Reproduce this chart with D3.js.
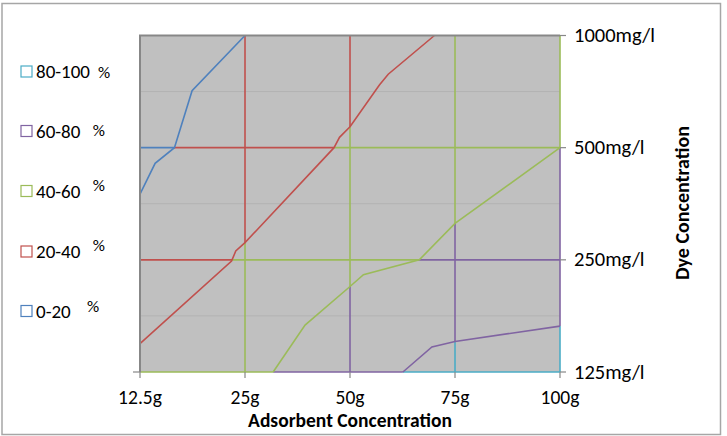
<!DOCTYPE html>
<html>
<head>
<meta charset="utf-8">
<script src="https://cdn.jsdelivr.net/npm/d3@7"></script>
<style>
  html, body { margin: 0; padding: 0; background: #ffffff; }
  text { font-family: Carlito, Calibri, Lato, sans-serif; fill: #000; }
</style>
</head>
<body>
<script>
// ---------------- DATA ----------------
const xCats = ["12.5g", "25g", "50g", "75g", "100g"];          // Adsorbent concentration categories
const xVals = [12.5, 25, 50, 75, 100];
const yVals = [125, 250, 500, 1000];                           // Dye concentration levels (mg/l)
const yLabels = ["125mg/l", "250mg/l", "500mg/l", "1000mg/l"];
const bandLabels = ["0-20", "20-40", "40-60", "60-80", "80-100"];
const bandColors = ["#4F81BD", "#C0504D", "#9BBB59", "#8064A2", "#4BACC6"];
// contour boundaries [adsorbent g, dye mg/l]
const contour20 = [[12.5, 375], [14.3, 454], [16.6, 500], [18.7, 711], [25, 1000]];
const contour40 = [[12.5, 149], [23.4, 248], [23.9, 264], [25, 278], [46.2, 500], [47.5, 533],
                   [50, 569], [57, 736], [59.1, 787], [70.1, 1000]];
const contour60 = [[31.7, 125], [39.3, 167], [50, 212], [53.2, 228], [66.5, 250], [75, 313], [100, 500]];
const contour80 = [[62.6, 125], [69.5, 146], [75, 151], [100, 166]];
const contours = [contour20, contour40, contour60, contour80];

// ---------------- LAYOUT ----------------
const W = 727, H = 436;
const X0 = 140, X1 = 560, Y0 = 35.5, Y1 = 372;

const svg = d3.select("body").append("svg").attr("width", W).attr("height", H);

svg.append("rect").attr("x", 2).attr("y", 3.5).attr("width", 718.5).attr("height", 431)
  .attr("fill", "#fff").attr("stroke", "#a6a6a6").attr("stroke-width", 1.5);

const x = d3.scaleLinear().domain(xVals)
  .range(xVals.map((d, i) => X0 + i * (X1 - X0) / (xVals.length - 1)));
const y = d3.scaleLog().base(2).domain([yVals[0], yVals[yVals.length - 1]]).range([Y1, Y0]);

// plot background
svg.append("rect").attr("x", X0).attr("y", Y0).attr("width", X1 - X0).attr("height", Y1 - Y0)
  .attr("fill", "#c0c0c0");

// minor horizontal lines (between dye levels)
const minor = d3.pairs(yVals).map(([a, b]) => Math.sqrt(a * b));
svg.append("g").selectAll("line").data(minor).join("line")
  .attr("x1", X0).attr("x2", X1).attr("y1", d => y(d)).attr("y2", d => y(d))
  .attr("stroke", "#b2b2b2").attr("stroke-width", 1);

// ---------------- band regions (for colouring grid lines) ----------------
const pad = 4;
const E0 = X0 - pad, E1 = X1 + pad, F0 = Y0 - pad, F1 = Y1 + pad;
const EW = E1 - E0, EH = F1 - F0, P = 2 * EW + 2 * EH;
function ext(p) {
  if (Math.abs(p[0] - X0) < 0.6) return [E0, p[1]];
  if (Math.abs(p[0] - X1) < 0.6) return [E1, p[1]];
  if (Math.abs(p[1] - Y1) < 0.6) return [p[0], F1];
  if (Math.abs(p[1] - Y0) < 0.6) return [p[0], F0];
  return p;
}
function tOf(p) {
  if (p[1] === F0) return p[0] - E0;
  if (p[0] === E1) return EW + (p[1] - F0);
  if (p[1] === F1) return EW + EH + (E1 - p[0]);
  return 2 * EW + EH + (F1 - p[1]);
}
function highPoly(data) {
  const pts = data.map(d => [x(d[0]), y(d[1])]);
  const s = ext(pts[0]), e = ext(pts[pts.length - 1]);
  const te = tOf(e), ts = tOf(s), ds = (ts - te + P) % P;
  const corners = [[E0, F0], [E1, F0], [E1, F1], [E0, F1]];
  const cs = corners.map(c => ({c, d: (tOf(c) - te + P) % P}))
    .filter(o => o.d > 0 && o.d < ds).sort((a, b) => a.d - b.d).map(o => o.c);
  return [s, ...pts, e, ...cs];
}
const polyPath = pts => "M" + pts.map(p => p.join(",")).join("L") + "Z";
const highs = contours.map(highPoly);
const rectPoly = [[E0, F0], [E1, F0], [E1, F1], [E0, F1]];
const regions = bandLabels.map((b, k) => {
  const outer = k === 0 ? rectPoly : highs[k - 1];
  const inner = k < highs.length ? highs[k] : null;
  return polyPath(outer) + (inner ? polyPath(inner) : "");
});

const defs = svg.append("defs");
regions.forEach((r, k) => {
  defs.append("clipPath").attr("id", "band" + k)
    .append("path").attr("d", r).attr("clip-rule", "evenodd");
});

regions.forEach((r, k) => {
  const g = svg.append("g").attr("clip-path", `url(#band${k})`)
    .attr("stroke", bandColors[k]).attr("stroke-width", 1.6);
  g.selectAll("line.v").data(xVals.slice(1)).join("line").attr("class", "v")
    .attr("x1", d => x(d)).attr("x2", d => x(d)).attr("y1", Y0).attr("y2", Y1);
  g.selectAll("line.h").data(yVals.slice(0, -1)).join("line").attr("class", "h")
    .attr("x1", X0).attr("x2", X1).attr("y1", d => y(d)).attr("y2", d => y(d));
});

// contour lines
const line = d3.line().x(d => x(d[0])).y(d => y(d[1]));
svg.append("g").selectAll("path").data(contours).join("path")
  .attr("d", line).attr("fill", "none")
  .attr("stroke", (d, i) => bandColors[i]).attr("stroke-width", 1.6);

// plot border (top, left)
svg.append("path").attr("d", `M${X0},${Y1}L${X0},${Y0}L${X1},${Y0}`)
  .attr("fill", "none").attr("stroke", "#878787").attr("stroke-width", 2);

// ticks
svg.append("g").selectAll("line").data(yVals).join("line")
  .attr("x1", X1).attr("x2", X1 + 6).attr("y1", d => y(d)).attr("y2", d => y(d))
  .attr("stroke", "#878787").attr("stroke-width", 1.2);
svg.append("g").selectAll("line").data(xVals).join("line")
  .attr("x1", d => x(d)).attr("x2", d => x(d)).attr("y1", Y1).attr("y2", Y1 + 6)
  .attr("stroke", "#878787").attr("stroke-width", 1.2);
svg.append("line").attr("x1", X0 - 7).attr("x2", X0).attr("y1", Y1).attr("y2", Y1)
  .attr("stroke", "#878787").attr("stroke-width", 1.2);

// tick labels
svg.append("g").selectAll("text").data(yVals).join("text")
  .attr("x", X1 + 14).attr("y", d => y(d) + 6.5)
  .attr("font-size", 20.5).text((d, i) => yLabels[i]);
svg.append("g").selectAll("text").data(xVals).join("text")
  .attr("x", d => x(d)).attr("y", 404).attr("text-anchor", "middle")
  .attr("font-size", 19.5).text((d, i) => xCats[i]);

// axis titles
svg.append("text").attr("x", 350).attr("y", 426.5).attr("text-anchor", "middle")
  .attr("font-size", 19.5).attr("font-weight", "bold").text("Adsorbent Concentration");
svg.append("text").attr("transform", "translate(689,203) rotate(-90)").attr("text-anchor", "middle")
  .attr("font-size", 20).attr("font-weight", "bold").text("Dye Concentration");

// legend
const legendY = [311, 251.5, 191, 131, 71.5];           // per band index
const pctPos = [[87, 306], [92.7, 245], [92.7, 185], [92.7, 129.5], [98, 72]];
const lg = svg.append("g");
bandLabels.forEach((b, k) => {
  const cy = legendY[k];
  lg.append("rect").attr("x", 21).attr("y", cy - 5.5).attr("width", 11).attr("height", 11)
    .attr("fill", "#fff").attr("stroke", bandColors[k]).attr("stroke-width", 1.2);
  lg.append("text").attr("x", 36).attr("y", cy + 6.5).attr("font-size", 19).text(b);
  lg.append("text").attr("x", pctPos[k][0]).attr("y", pctPos[k][1] + 6)
    .attr("font-size", 17).text("%");
});
</script>
</body>
</html>
